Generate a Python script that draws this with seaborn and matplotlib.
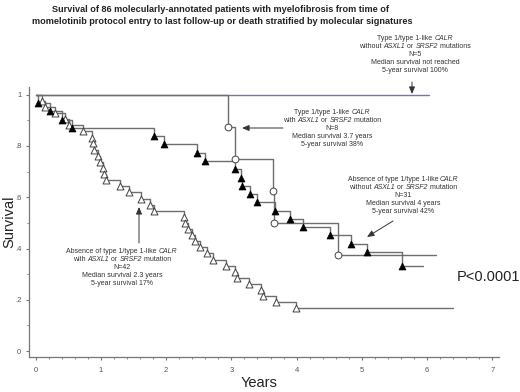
import numpy as np
import pandas as pd
import seaborn as sns
import matplotlib
matplotlib.use("Agg")
import matplotlib.pyplot as plt

# ---------------- data ----------------
# Type 1/type 1-like CALR without ASXL1/SRSF2 (N=5)
g5_times = []
g5_surv = []
g5_end = 6.03

# Type 1/type 1-like CALR with ASXL1/SRSF2 (N=8) - open circles
g8_times = [2.95, 3.05, 3.64, 3.66, 4.63]
g8_surv = [0.875, 0.750, 0.625, 0.500, 0.375]
g8_end = 6.13

# Absence of type 1 CALR without ASXL1/SRSF2 (N=31) - filled triangles
g31_times = [0.04, 0.22, 0.40, 0.56, 1.82, 1.97, 2.47, 2.60, 3.05, 3.15,
             3.16, 3.28, 3.39, 3.67, 3.90, 4.10, 4.51, 4.83, 5.08, 5.61]
g31_surv = [0.968, 0.935, 0.903, 0.871, 0.839, 0.806, 0.774, 0.742, 0.710, 0.677,
            0.645, 0.613, 0.581, 0.548, 0.516, 0.484, 0.452, 0.419, 0.387, 0.330]
g31_end = 5.93

# Absence of type 1 CALR with ASXL1/SRSF2 (N=42) - open triangles
g42_times = [0.10, 0.15, 0.30, 0.45, 0.52, 0.73, 0.87, 0.88, 0.90, 0.95,
             0.98, 1.03, 1.05, 1.08, 1.29, 1.43, 1.62, 1.75, 1.81, 2.27,
             2.29, 2.33, 2.40, 2.44, 2.52, 2.62, 2.72, 2.92, 3.05, 3.09,
             3.27, 3.45, 3.49, 3.68, 3.99]
g42_surv = [0.976, 0.952, 0.929, 0.905, 0.881, 0.857, 0.833, 0.810, 0.786, 0.762,
            0.738, 0.714, 0.690, 0.667, 0.643, 0.619, 0.595, 0.571, 0.548, 0.524,
            0.500, 0.476, 0.452, 0.429, 0.405, 0.381, 0.357, 0.333, 0.310, 0.286,
            0.262, 0.238, 0.214, 0.190, 0.167]
g42_end = 6.39

x_ticks = [0, 1, 2, 3, 4, 5, 6, 7]
y_ticks = [0, 0.2, 0.4, 0.6, 0.8, 1.0]
y_tick_labels = ["0", ".2", ".4", ".6", ".8", "1"]

title_line1 = "Survival of 86 molecularly-annotated patients with myelofibrosis from time of"
title_line2 = "momelotinib protocol entry to last follow-up or death stratified by molecular signatures"

# annotation texts: each line is a list of (text, italic) segments
ann_n5 = [[("Type 1/type 1-like ", False), ("CALR", True)],
          [("without ", False), ("ASXL1", True), (" or ", False), ("SRSF2", True), (" mutations", False)],
          [("N=5", False)], [("Median survival not reached", False)], [("5-year survival 100%", False)]]
ann_n8 = [[("Type 1/type 1-like ", False), ("CALR", True)],
          [("with ", False), ("ASXL1", True), (" or ", False), ("SRSF2", True), (" mutation", False)],
          [("N=8", False)], [("Median survival 3.7 years", False)], [("5-year survival 38%", False)]]
ann_n31 = [[("Absence of type 1/type 1-like ", False), ("CALR", True)],
           [("without ", False), ("ASXL1", True), (" or ", False), ("SRSF2", True), (" mutation", False)],
           [("N=31", False)], [("Median survival 4 years", False)], [("5-year survival 42%", False)]]
ann_n42 = [[("Absence of type 1/type 1-like ", False), ("CALR", True)],
           [("with ", False), ("ASXL1", True), (" or ", False), ("SRSF2", True), (" mutation", False)],
           [("N=42", False)], [("Median survival 2.3 years", False)], [("5-year survival 17%", False)]]

# ---------------- style ----------------
sns.set_theme(style="ticks")
plt.rcParams['font.family'] = ['Liberation Sans', 'DejaVu Sans']

W, H = 520, 392
fig = plt.figure(figsize=(W / 100, H / 100), dpi=100)
ax = fig.add_axes([29 / W, 1 - 357 / H, (499 - 29) / W, (357 - 87) / H])


def step_frame(name, times, surv, end):
    t = [0.0] + list(times) + [end]
    s = [1.0] + list(surv) + [surv[-1] if len(surv) else 1.0]
    return pd.DataFrame({"time": t, "surv": s, "group": name})


line_col = "#6e6e6e"
df5 = step_frame("g5", g5_times, g5_surv, g5_end)
df8 = step_frame("g8", g8_times, g8_surv, g8_end)
df31 = step_frame("g31", g31_times, g31_surv, g31_end)
df42 = step_frame("g42", g42_times, g42_surv, g42_end)

for d, c in [(df5, "#77779a"), (df8, line_col), (df31, line_col), (df42, line_col)]:
    sns.lineplot(data=d, x="time", y="surv", estimator=None, sort=False,
                 drawstyle="steps-post", color=c, linewidth=1.0, ax=ax, zorder=2)

ev8 = pd.DataFrame({"time": g8_times, "surv": g8_surv})
ev31 = pd.DataFrame({"time": g31_times, "surv": g31_surv})
ev42 = pd.DataFrame({"time": g42_times, "surv": g42_surv})

sns.scatterplot(data=ev42, x="time", y="surv", marker="^", s=25, facecolor="white",
                edgecolor="#444444", linewidth=0.7, ax=ax, zorder=3)
sns.scatterplot(data=ev31, x="time", y="surv", marker="^", s=25, color="black",
                edgecolor="black", linewidth=0.5, ax=ax, zorder=3)
sns.scatterplot(data=ev8, x="time", y="surv", marker="o", s=24, facecolor="white",
                edgecolor="#444444", linewidth=0.7, ax=ax, zorder=3)

ax.set_xlim(-0.1, 7.1)
ax.set_ylim(-0.023, 1.03)
ax.set_xticks(x_ticks)
ax.set_xticklabels([str(v) for v in x_ticks])
ax.set_yticks(y_ticks)
ax.set_yticklabels(y_tick_labels)
ax.set_xticks(np.arange(0, 7.01, 0.2), minor=True)
ax.set_yticks(np.arange(0, 1.01, 0.1), minor=True)
ax.tick_params(axis='both', which='major', labelsize=5.5, labelcolor="#555555",
               color="#777777", length=2.5, width=0.8, pad=3)
ax.tick_params(axis='x', which='major', pad=5)
ax.tick_params(axis='both', which='minor', color="#777777", length=1.5, width=0.6)
ax.set_xlabel("")
ax.set_ylabel("")
for side in ["top", "right"]:
    ax.spines[side].set_visible(False)
for side in ["left", "bottom"]:
    ax.spines[side].set_color("#777777")
    ax.spines[side].set_linewidth(0.9)


def fx(x):
    return x / W


def fy(y):
    return 1 - y / H


fig.text(fx(9), fy(222), "Survival", rotation=90, fontsize=10.5, ha="center", va="center",
         color="#222222")
fig.text(fx(259), fy(383), "Years", fontsize=10.5, ha="center", va="center", color="#222222")
fig.text(fx(488), fy(277), "P<0.0001", fontsize=10.5, ha="center", va="center", color="#222222")

fig.text(fx(221), fy(9), title_line1, fontsize=6.6, fontweight="bold", ha="center",
         va="center", color="#222222")
fig.text(fx(222), fy(21), title_line2, fontsize=6.6, fontweight="bold", ha="center",
         va="center", color="#222222")

ann_fs = 5.0
ann_col = "#333333"
renderer = fig.canvas.get_renderer()


def block(cx, y_first, lines, dy=8.1):
    for i, segs in enumerate(lines):
        ybase = y_first + i * dy
        arts = []
        for txt, it in segs:
            t = fig.text(0, fy(ybase), txt, fontsize=ann_fs, ha="left", va="baseline",
                         color=ann_col, fontstyle="italic" if it else "normal")
            arts.append(t)
        widths = [a.get_window_extent(renderer=renderer).width for a in arts]
        total = sum(widths)
        x = cx - total / 2.0
        for a, w in zip(arts, widths):
            a.set_x(fx(x))
            x += w


block(415, 40, ann_n5)
block(332, 114, ann_n8)
block(403, 181, ann_n31)
block(122, 253, ann_n42)

arrowprops = dict(arrowstyle="-|>,head_length=0.35,head_width=0.15", color="#333333",
                  lw=0.7, shrinkA=0, shrinkB=0)
for tail, head in [((412, 82), (412, 94)),
                   ((283, 128), (242, 128)),
                   ((393, 221), (367, 237)),
                   ((139, 243), (139, 207))]:
    ax.annotate("", xy=(fx(head[0]), fy(head[1])), xycoords="figure fraction",
                xytext=(fx(tail[0]), fy(tail[1])), textcoords="figure fraction",
                arrowprops=arrowprops)

fig.savefig("out.png", dpi=100)
